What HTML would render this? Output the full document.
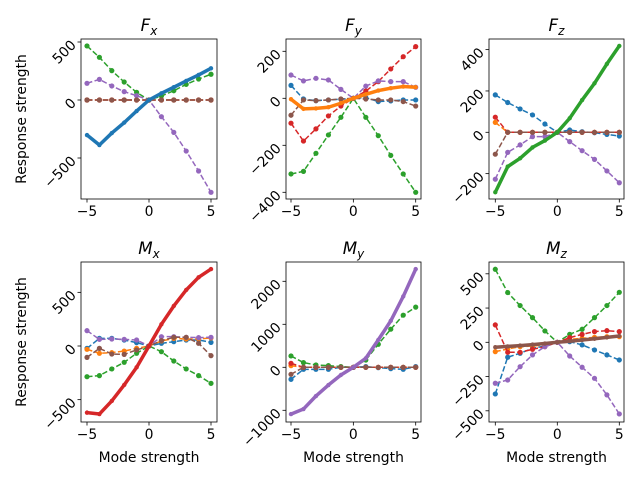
<!DOCTYPE html>
<html><head><meta charset="utf-8"><style>
html,body{margin:0;padding:0;background:#fff;}
svg{display:block;font-family:"DejaVu Sans","Liberation Sans",sans-serif;}
</style></head><body>
<svg id="fig" width="640" height="480" viewBox="0 0 640 480"></svg>
<script>
const modeX = [-5,-4,-3,-2,-1,0,1,2,3,4,5];
const seriesColors = ["#1f77b4","#ff7f0e","#2ca02c","#d62728","#9467bd","#8c564b"];
const seriesNames = ["series-0","series-1","series-2","series-3","series-4","series-5"];
const xTicks = [-5,0,5];
const fxBlue   = [-302,-388,-285,-195,-95,0,58,110,164,216,273];
const fxOrange = [0,0,0,0,0,0,0,0,0,0,0];
const fxGreen  = [466,368,253,155,66,0,34,80,135,181,222];
const fxRed    = [0,0,0,0,0,0,0,0,0,0,0];
const fxPurple = [144,178,121,72,37,0,-144,-279,-440,-612,-796];
const fxBrown  = [0,0,0,0,0,0,0,0,0,0,0];
const fyBlue   = [55,-3,-10,-7,-4,0,3,-14,-11,-7,-7];
const fyOrange = [-4,-45,-43,-38,-21,0,17,33,43,50,47];
const fyGreen  = [-322,-311,-234,-156,-81,0,-81,-159,-243,-322,-400];
const fyRed    = [-106,-182,-130,-75,-33,0,31,71,125,177,220];
const fyPurple = [99,74,85,78,38,0,52,74,71,71,47];
const fyBrown  = [-72,-7,-10,-7,-3,0,-3,-7,-7,-14,-33];
const fzBlue   = [181,144,113,84,40,0,11,3,-2,-10,-18];
const fzOrange = [48,0,0,0,0,0,0,0,0,0,0];
const fzGreen  = [-290,-166,-126,-73,-40,0,68,156,237,331,418];
const fzRed    = [73,0,0,0,0,0,0,0,0,0,0];
const fzPurple = [-227,-97,-61,-21,-21,0,-45,-89,-131,-187,-244];
const fzBrown  = [-106,0,0,0,0,0,0,0,0,0,0];
const mxBlue   = [-22,71,71,56,31,0,25,40,56,56,34];
const mxOrange = [-31,-68,-62,-47,-22,0,47,71,65,65,75];
const mxGreen  = [-286,-276,-214,-152,-68,0,-53,-140,-214,-276,-348];
const mxRed    = [-621,-634,-512,-363,-199,0,202,373,522,640,717];
const mxPurple = [143,62,65,62,56,0,87,87,81,78,81];
const mxBrown  = [-106,-22,-75,-78,-37,0,50,81,81,25,-90];
const myBlue   = [-280,-47,-47,-47,0,0,16,-8,-31,-47,16];
const myOrange = [39,0,0,0,0,0,0,0,0,0,0];
const myGreen  = [264,109,54,39,16,0,170,536,886,1212,1399];
const myRed    = [93,0,0,0,0,0,0,0,0,0,0];
const myPurple = [-1088,-971,-668,-412,-179,0,210,637,1080,1647,2284];
const myBrown  = [-163,0,0,0,0,0,0,0,0,0,0];
const mzBlue   = [-377,-109,-80,-44,-27,0,5,-19,-56,-92,-129];
const mzOrange = [-68,-49,-32,-27,-19,0,22,29,36,41,41];
const mzGreen  = [533,363,268,180,83,0,58,95,180,268,365];
const mzRed    = [127,-73,-73,-51,-32,0,34,58,78,85,78];
const mzPurple = [-299,-275,-178,-92,-32,0,-100,-182,-263,-384,-523];
const mzBrown  = [-36,-30,-24,-17,-9,0,8,17,26,36,46];
const fxTicks = [-500,0,500];
const fyTicks = [-400,-200,0,200];
const fzTicks = [-200,0,200,400];
const mxTicks = [-500,0,500];
const myTicks = [-1000,0,1000,2000];
const mzTicks = [-500,-250,0,250,500];

const NS="http://www.w3.org/2000/svg";
const svg=document.getElementById('fig');
function el(tag,attrs,parent){const e=document.createElementNS(NS,tag);for(const k in attrs)e.setAttribute(k,attrs[k]);(parent||svg).appendChild(e);return e;}

const panels=[
 {name:"fx",t:"F",s:"x",box:[81,39,217,199],xa:87,xb:211,y0:100,k:0.116,ticks:fxTicks,thick:0,data:[fxBlue,fxOrange,fxGreen,fxRed,fxPurple,fxBrown],ylab:true,xlab:false},
 {name:"fy",t:"F",s:"y",box:[286,39,421,199],xa:291,xb:415.7,y0:98.3,k:0.235,ticks:fyTicks,thick:1,data:[fyBlue,fyOrange,fyGreen,fyRed,fyPurple,fyBrown],ylab:false,xlab:false},
 {name:"fz",t:"F",s:"z",box:[489,39,624,199],xa:495.3,xb:619.3,y0:132.3,k:0.2067,ticks:fzTicks,thick:2,data:[fzBlue,fzOrange,fzGreen,fzRed,fzPurple,fzBrown],ylab:false,xlab:false},
 {name:"mx",t:"M",s:"x",box:[81,262,217,422],xa:87,xb:211,y0:346,k:0.1073,ticks:mxTicks,thick:3,data:[mxBlue,mxOrange,mxGreen,mxRed,mxPurple,mxBrown],ylab:true,xlab:true},
 {name:"my",t:"M",s:"y",box:[286,262,421,422],xa:291,xb:415.7,y0:367.3,k:0.043,ticks:myTicks,thick:4,data:[myBlue,myOrange,myGreen,myRed,myPurple,myBrown],ylab:false,xlab:true},
 {name:"mz",t:"M",s:"z",box:[489,262,624,422],xa:495.3,xb:619.3,y0:342.3,k:0.137,ticks:mzTicks,thick:5,data:[mzBlue,mzOrange,mzGreen,mzRed,mzPurple,mzBrown],ylab:false,xlab:true},
];

panels.forEach(p=>{
  const [x1,y1,x2,y2]=p.box;
  const xs=v=>p.xa+(v+5)*(p.xb-p.xa)/10;
  const ys=v=>p.y0-v*p.k;
  const g=el('g',{});
  
  
  const cid='clip-'+p.name;
  const cp=el('clipPath',{id:cid},g);el('rect',{x:x1,y:y1,width:x2-x1,height:y2-y1},cp);
  const plot=el('g',{'clip-path':'url(#'+cid+')'},g);
  const order=[0,1,2,3,4,5].filter(i=>i!==p.thick);order.push(p.thick);
  order.forEach(i=>{
    const vals=p.data[i];
    const sg=el('g',{},plot);
    
    
    const pts=modeX.map((x,j)=>xs(x).toFixed(2)+','+ys(vals[j]).toFixed(2)).join(' ');
    const thick=i===p.thick;
    el('polyline',{points:pts,fill:'none',stroke:seriesColors[i],'stroke-width':thick?3.5:1.5,'stroke-dasharray':thick?'none':'5.5,2.4','stroke-linejoin':'round'},sg);
    modeX.forEach((x,j)=>{el('circle',{cx:xs(x),cy:ys(vals[j]),r:thick?2.2:2.6,fill:seriesColors[i]},sg);});
  });
  el('rect',{x:x1,y:y1,width:x2-x1,height:y2-y1,fill:'none',stroke:'#000','stroke-width':0.8},g);
  xTicks.forEach(v=>{
    const x=xs(v);
    el('line',{x1:x,y1:y2,x2:x,y2:y2+3.5,stroke:'#000','stroke-width':0.8},g);
    const t=el('text',{x:x,y:y2+17,'text-anchor':'middle','font-size':'13.9px',fill:'#000'},g);
    t.textContent=v<0?'\u2212'+(-v):String(v);
  });
  p.ticks.forEach(v=>{
    const y=ys(v);
    el('line',{x1:x1,y1:y,x2:x1-3.5,y2:y,stroke:'#000','stroke-width':0.8},g);
    const tx=x1-7,ty=y+5;
    const t=el('text',{x:tx,y:ty,'text-anchor':'end','font-size':'13.9px',fill:'#000',transform:'rotate(-45 '+tx+' '+(y+1)+')'},g);
    t.textContent=v<0?'\u2212'+(-v):String(v);
  });
  const tt=el('text',{x:(x1+x2)/2,y:y1-8,'text-anchor':'middle','font-size':'16.7px',fill:'#000'},g);
  
  
  const a=el('tspan',{'font-style':'italic'},tt);a.textContent=p.t;
  const b=el('tspan',{'font-style':'italic','font-size':'12px',dy:'4'},tt);b.textContent=p.s;
  if(p.ylab){
    const yl=el('text',{x:0,y:0,'text-anchor':'middle','font-size':'13.9px',fill:'#000',transform:'translate(26 '+((y1+y2)/2)+') rotate(-90)'},g);
    
    
    yl.textContent='Response strength';
  }
  if(p.xlab){
    const xl=el('text',{x:(x1+x2)/2,y:462,'text-anchor':'middle','font-size':'13.9px',fill:'#000'},g);
    
    
    xl.textContent='Mode strength';
  }
});
</script>
</body></html>
